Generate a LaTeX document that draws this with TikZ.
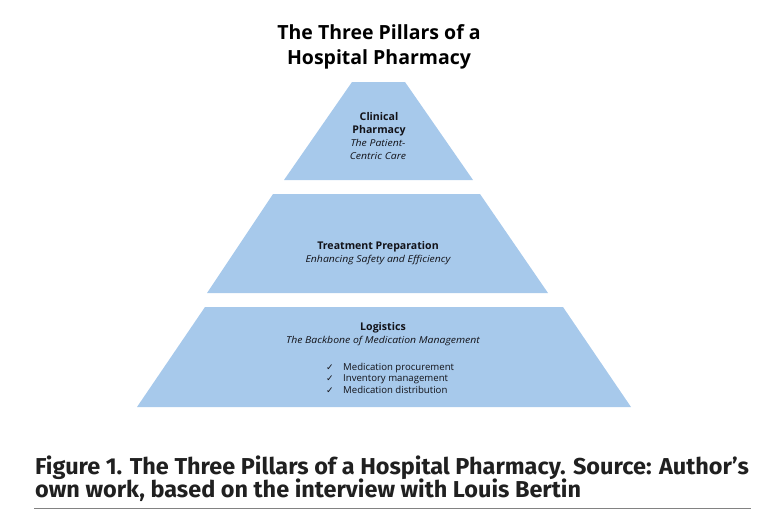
\documentclass[tikz,border=0pt]{standalone}
\usepackage{fontspec}
\setmainfont{Open Sans}
\newfontfamily\mottofont[FakeStretch=1.1]{Open Sans}
\newfontfamily\capfont[FakeStretch=1.02]{Fira Sans}
\newfontfamily\symfont{DejaVu Sans}
\usetikzlibrary{positioning}

\definecolor{pillarblue}{RGB}{167,201,235}
\definecolor{inktext}{RGB}{18,18,24}
\definecolor{captext}{RGB}{32,32,32}
\definecolor{rulegray}{RGB}{130,130,130}

\tikzset{
  pillar/.style={fill=pillarblue, draw=none},
  heading/.style={font=\bfseries\fontsize{19.5}{25}\selectfont, anchor=base, inner sep=0pt},
  layer/.style={font=\bfseries\fontsize{10.6}{13}\selectfont, text=inktext, anchor=base, inner sep=0pt},
  motto/.style={font=\mottofont\itshape\fontsize{9.5}{13}\selectfont, text=inktext, anchor=base, inner sep=0pt},
  tick/.style={font=\symfont\fontsize{9}{10}\selectfont, text=inktext, anchor=base west, inner sep=0pt},
  task/.style={font=\fontsize{9.6}{12}\selectfont, text=inktext, anchor=base west, inner sep=0pt},
  caption/.style={font=\capfont\bfseries\fontsize{23}{23}\selectfont, text=captext, anchor=base west, inner sep=0pt}
}

\begin{document}
\begin{tikzpicture}[x=1pt, y=-1pt]
    \useasboundingbox (0,0) rectangle (778,522);

    % title
    \node[heading] (H1) at (379,39) {The Three Pillars of a};
    \node[heading] (H2) at (379,64) {Hospital Pharmacy};

    % the three pillars, top to bottom
    \fill[pillar] (352,82) -- (405,82) -- (473,180) -- (284,180) -- cycle;
    \fill[pillar] (273,194) -- (480,194) -- (548,293) -- (207,293) -- cycle;
    \fill[pillar] (205,307) -- (563,307) -- (631,407) -- (137,407) -- cycle;

    % clinical pharmacy
    \node[layer] (C1) at (379,120) {Clinical};
    \node[layer] (C2) at (379,133) {Pharmacy};
    \node[motto] (C3) at (378,146) {The Patient-};
    \node[motto] (C4) at (378,159) {Centric Care};

    % treatment preparation
    \node[layer] (T1) at (378,249) {Treatment Preparation};
    \node[motto] (T2) at (378,262) {Enhancing Safety and Efficiency};

    % logistics
    \node[layer] (L1) at (383,330) {Logistics};
    \node[motto] (L2) at (383,343) {The Backbone of Medication Management};
    \node[tick] (K1) at (326,370) {✓};
    \node[tick] (K2) at (326,381.5) {✓};
    \node[tick] (K3) at (326,393) {✓};
    \node[task] (M1) at (343,370) {Medication procurement};
    \node[task] (M2) at (343,381.5) {Inventory management};
    \node[task] (M3) at (343,393) {Medication distribution};

    % caption
    \node[caption] (F1) at (35,474) {Figure 1. The Three Pillars of a Hospital Pharmacy. Source: Author’s};
    \node[caption] (F2) at (35,497) {own work, based on the interview with Louis Bertin};
    \coordinate (R1) at (34,508);
    \coordinate (R2) at (751,508);
    \draw[rulegray, line width=1pt] (R1) -- (R2);
\end{tikzpicture}
\end{document}
